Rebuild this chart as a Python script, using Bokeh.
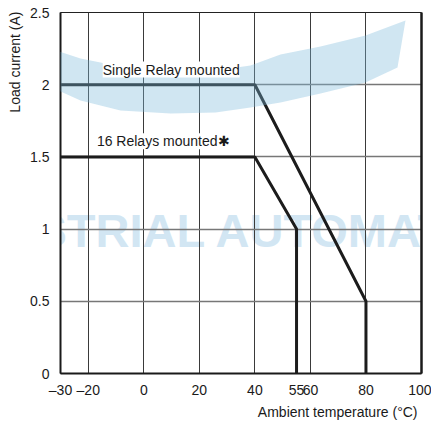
from bokeh.plotting import figure
from bokeh.models import Range1d, FixedTicker, LinearAxis, Label, PolyAnnotation, Title
from bokeh.embed import file_html
from bokeh.resources import INLINE

# ---- data ----
single_temp = [-30, 40, 80, 80]
single_current = [2.0, 2.0, 0.5, 0.0]
multi_temp = [-30, 40, 55, 55]
multi_current = [1.5, 1.5, 1.0, 0.0]

x_ticks = [-30, -20, 0, 20, 40, 55, 60, 80, 100]
x_tick_labels = ["–30", "–20", "0", "20", "40", "55", "60", "80", "100"]
x_grid = [-20, 0, 20, 40, 60, 80]
y_ticks = [0, 0.5, 1, 1.5, 2, 2.5]
y_tick_labels = ["0", "0.5", "1", "1.5", "2", "2.5"]
y_grid = [0.5, 1, 1.5, 2]

x_title = "Ambient temperature (°C)"
y_title = "Load current (A)"

FONT = "Liberation Sans"

p = figure(width=431, height=422, output_backend="svg", toolbar_location=None,
           x_range=Range1d(-30, 100), y_range=Range1d(0, 2.5),
           min_border_left=60, min_border_right=10, min_border_top=12, min_border_bottom=49)
p.background_fill_color = "white"
p.border_fill_color = "white"
p.outline_line_color = "#222222"
p.outline_line_width = 1

# axes
p.xaxis.ticker = FixedTicker(ticks=x_ticks)
p.xaxis.major_label_overrides = {t: l for t, l in zip(x_ticks, x_tick_labels)}
p.yaxis.ticker = FixedTicker(ticks=y_ticks)
p.yaxis.major_label_overrides = {t: l for t, l in zip(y_ticks, y_tick_labels)}
for ax in (p.xaxis, p.yaxis):
    ax.major_tick_line_color = None
    ax.minor_tick_line_color = None
    ax.axis_line_color = "#1a1a1a"
    ax.axis_line_width = 2
    ax.major_label_text_font = FONT
    ax.major_label_text_font_size = "14px"
    ax.major_label_text_color = "#1a1a1a"
p.xaxis.major_label_standoff = 2
p.yaxis.major_label_standoff = 5

right_axis = LinearAxis(ticker=FixedTicker(ticks=[]), major_label_text_font_size="0px",
                        major_tick_line_color=None, minor_tick_line_color=None,
                        axis_line_color="#1a1a1a", axis_line_width=2.5)
p.add_layout(right_axis, "right")

# axis titles (right/top aligned like the reference)
xt = Title(text=x_title, align="right", text_font=FONT, text_font_size="14px",
           text_font_style="normal", text_color="#1a1a1a", standoff=2, offset=4)
yt = Title(text=y_title, align="right", text_font=FONT, text_font_size="14px",
           text_font_style="normal", text_color="#1a1a1a", standoff=9, offset=-1)
p.add_layout(xt, "below")
p.add_layout(yt, "left")

# grid
p.xgrid.ticker = FixedTicker(ticks=x_grid)
p.ygrid.ticker = FixedTicker(ticks=y_grid)
p.xgrid.grid_line_color = "#3a3a3a"
p.xgrid.grid_line_width = 1
p.ygrid.grid_line_color = "#777777"
p.ygrid.grid_line_width = 1.3

# curves
p.line(single_temp, single_current, line_color="#1c1c1c", line_width=3)
p.line(multi_temp, multi_current, line_color="#1c1c1c", line_width=3)

# ---- decorative watermark (page pixel space -> data space) ----
def to_x(px):
    return (px - 60) / (361 / 130) - 30

def to_y(py):
    return 2.5 - (py - 12) / (361 / 2.5)

band_top_px = [(0, 32), (40, 45), (80, 58), (120, 66), (170, 71), (215, 70), (250, 65),
               (280, 54), (320, 46), (365, 35), (405, 20)]
band_bot_px = [(397, 67), (365, 82), (320, 93), (280, 102), (250, 107), (215, 112),
               (170, 113), (120, 110), (80, 100), (40, 82), (0, 60)]
pts = band_top_px + band_bot_px
band = PolyAnnotation(xs=[to_x(a) for a, b in pts], ys=[to_y(b) for a, b in pts],
                      fill_color="#7dbbdc", fill_alpha=0.36, line_color=None)
p.add_layout(band)

wm = Label(x=to_x(-80), y=to_y(230), text="INDUSTRIAL AUTOMATION", text_align="left",
           text_baseline="alphabetic", text_font=FONT, text_font_style="bold",
           text_font_size="47px", text_color="#d2e6f3", text_alpha=1.0, level="image")
p.add_layout(wm)

# ---- curve labels ----
lab1 = Label(x=-14.8, y=2.105, text="Single Relay mounted", text_align="left",
             text_baseline="middle", text_font=FONT, text_font_size="14px",
             text_color="#1a1a1a", background_fill_color="white", background_fill_alpha=1.0)
lab2 = Label(x=-16.9, y=1.609, text="16 Relays mounted\u2731", text_align="left",
             text_baseline="middle", text_font=FONT, text_font_size="14px",
             text_color="#1a1a1a", background_fill_color="white", background_fill_alpha=1.0)
p.add_layout(lab1)
p.add_layout(lab2)

open("out.html", "w").write(file_html(p, INLINE))
